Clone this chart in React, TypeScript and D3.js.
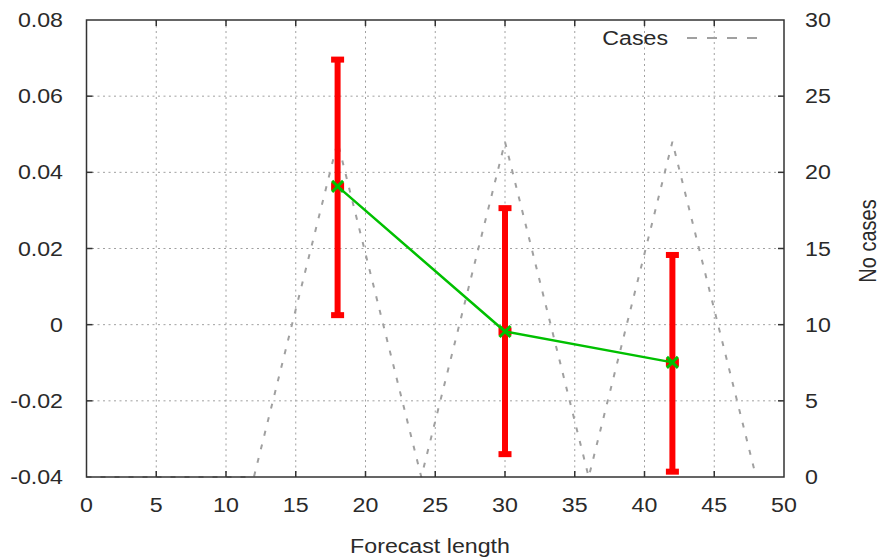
import React, { useEffect, useRef } from 'react'
import * as d3 from 'd3'

// forecast lengths with verification scores (mean and spread)
const leadHours = [18, 30, 42]
const meanScore = [0.0363, -0.0018, -0.0099]
const lowScore = [0.0025, -0.034, -0.0386]
const highScore = [0.0696, 0.0306, 0.0183]

// number of cases per forecast length
const caseHours = [0, 6, 12, 18, 24, 30, 36, 42, 48]
const caseCounts = [0, 0, 0, 22, 0, 22, 0, 22, 0]

const xTicks = [0, 5, 10, 15, 20, 25, 30, 35, 40, 45, 50]
const yTicks = [-0.04, -0.02, 0, 0.02, 0.04, 0.06, 0.08]
const y2Ticks = [0, 5, 10, 15, 20, 25, 30]

const W = 883
const H = 560
const FONT = '"Liberation Sans", Arial, sans-serif'
const SX = 1.16 // text looks a bit wider than tall

const App = () => {
  const svgRef = useRef<SVGSVGElement>(null)

  useEffect(() => {
    const svg = d3.select(svgRef.current)
    svg.selectAll('*').remove()

    const left = 86.5
    const right = 784
    const top = 20
    const bottom = 477

    const x = d3.scaleLinear().domain([0, 50]).range([left, right])
    const y = d3.scaleLinear().domain([-0.04, 0.08]).range([bottom, top])
    const y2 = d3.scaleLinear().domain([0, 30]).range([bottom, top])

    const label = (tx: number, ty: number, txt: string, anchor: string, rot = 0) =>
      svg
        .append('text')
        .attr('transform', `translate(${tx},${ty}) scale(${SX},1)` + (rot ? ` rotate(${rot})` : ''))
        .attr('text-anchor', anchor)
        .attr('font-family', FONT)
        .attr('font-size', 20)
        .attr('fill', '#2a2a2a')
        .text(txt)

    // grid
    const grid = svg.append('g').attr('stroke', '#a0a0a0').attr('stroke-width', 1).attr('stroke-dasharray', '2,3.5')
    xTicks.slice(1, -1).forEach(t => {
      grid.append('line').attr('x1', x(t)).attr('x2', x(t)).attr('y1', top).attr('y2', bottom)
    })
    yTicks.slice(1, -1).forEach(t => {
      grid.append('line').attr('x1', left).attr('x2', right).attr('y1', y(t)).attr('y2', y(t))
    })

    // cases line (right axis)
    const caseLine = d3
      .line<number>()
      .x((d, i) => x(caseHours[i]))
      .y(d => y2(d))
    svg
      .append('path')
      .attr('d', caseLine(caseCounts))
      .attr('fill', 'none')
      .attr('stroke', '#a0a0a0')
      .attr('stroke-width', 2)
      .attr('stroke-dasharray', '5,9')

    // error bars
    const eb = svg.append('g').attr('stroke', '#ff0000').attr('fill', '#ff0000')
    leadHours.forEach((h, i) => {
      eb.append('line')
        .attr('x1', x(h)).attr('x2', x(h))
        .attr('y1', y(lowScore[i])).attr('y2', y(highScore[i]))
        .attr('stroke-width', 6)
      ;[lowScore[i], highScore[i]].forEach(v => {
        eb.append('rect')
          .attr('x', x(h) - 6.5).attr('y', y(v) - 3)
          .attr('width', 13).attr('height', 6)
          .attr('stroke', 'none')
      })
      eb.append('rect')
        .attr('x', x(h) - 6.5).attr('y', y(meanScore[i]) - 4)
        .attr('width', 13).attr('height', 8)
        .attr('stroke', 'none')
    })

    // mean line
    const meanLine = d3
      .line<number>()
      .x((d, i) => x(leadHours[i]))
      .y(d => y(d))
    svg
      .append('path')
      .attr('d', meanLine(meanScore))
      .attr('fill', 'none')
      .attr('stroke', '#00c000')
      .attr('stroke-width', 2.5)

    const marks = svg.append('g').attr('stroke', '#00c000').attr('stroke-width', 3)
    leadHours.forEach((h, i) => {
      const cx = x(h)
      const cy = y(meanScore[i])
      const s = 5.5
      marks.append('path').attr('d', `M${cx - s},${cy - s}L${cx + s},${cy + s}M${cx - s},${cy + s}L${cx + s},${cy - s}`)
    })

    // frame and ticks
    svg
      .append('rect')
      .attr('x', left).attr('y', top)
      .attr('width', right - left).attr('height', bottom - top)
      .attr('fill', 'none').attr('stroke', '#333').attr('stroke-width', 1.5)

    const tk = svg.append('g').attr('stroke', '#333').attr('stroke-width', 1.5)
    xTicks.slice(1, -1).forEach(t => {
      tk.append('line').attr('x1', x(t)).attr('x2', x(t)).attr('y1', bottom).attr('y2', bottom - 6)
      tk.append('line').attr('x1', x(t)).attr('x2', x(t)).attr('y1', top).attr('y2', top + 6)
    })
    yTicks.slice(1, -1).forEach(t => {
      tk.append('line').attr('x1', left).attr('x2', left + 6).attr('y1', y(t)).attr('y2', y(t))
    })
    y2Ticks.slice(1, -1).forEach(t => {
      tk.append('line').attr('x1', right).attr('x2', right - 6).attr('y1', y2(t)).attr('y2', y2(t))
    })

    // tick labels
    const fmt = (v: number) => (v === 0 ? '0' : d3.format('.2f')(v).replace('−', '-'))
    yTicks.forEach(t => label(63, y(t) + 7, fmt(t), 'end'))
    y2Ticks.forEach(t => label(805, y2(t) + 7, String(t), 'start'))
    xTicks.forEach(t => label(x(t), 512, String(t), 'middle'))

    // axis titles
    label(430, 553, 'Forecast length', 'middle')
    label(876, 241, 'No cases', 'middle', -90)

    // legend
    label(668, 45, 'Cases', 'end')
    svg
      .append('line')
      .attr('x1', 687).attr('x2', 757).attr('y1', 38).attr('y2', 38)
      .attr('stroke', '#a0a0a0').attr('stroke-width', 2).attr('stroke-dasharray', '10,10')
  }, [])

  return (
    <svg
      ref={svgRef}
      width={W}
      height={H}
      style={{ position: 'absolute', left: 0, top: 0, background: '#fff' }}
    />
  )
}

export default App
